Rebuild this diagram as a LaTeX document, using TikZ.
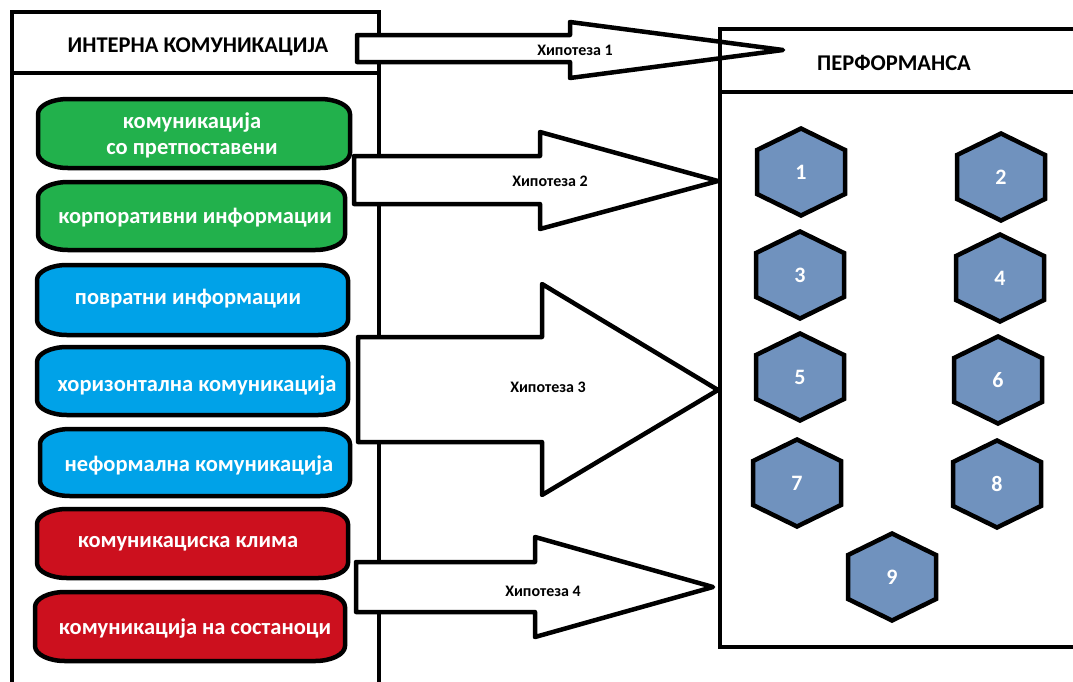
\documentclass[tikz,border=0pt]{standalone}
\usepackage{fontspec}
\setmainfont{Carlito}
\definecolor{pgreen}{RGB}{34,177,76}
\definecolor{pblue}{RGB}{0,162,232}
\definecolor{pred}{RGB}{204,16,30}
\definecolor{hexblue}{RGB}{112,146,190}
\tikzset{
  thick line/.style={line width=4.5pt, draw=black},
  pillline/.style={line width=4.5pt, draw=black, line join=round},
  arrowshape/.style={line width=4.5pt, draw=black, fill=white, line join=round},
  hexline/.style={line width=4.5pt, draw=black, fill=hexblue, line join=miter},
  pilltext/.style={text=white, font=\bfseries\fontsize{22.5}{26}\selectfont, align=center, inner sep=0pt},
  titletext/.style={text=black, font=\bfseries\fontsize{22.5}{26}\selectfont, inner sep=0pt},
  hyptext/.style={text=black, font=\bfseries\fontsize{16}{19}\selectfont, inner sep=0pt},
  hexnum/.style={text=white, font=\bfseries\fontsize{22}{25}\selectfont, inner sep=0pt}
}
\newcommand\pillshape[5]{%
  \draw[pillline,fill=#5] (#1,{#2+15}) .. controls (#1,{#2+6.7}) and ({#1+13.4},#2) .. ({#1+30},#2)
    -- ({#3-30},#2) .. controls ({#3-13.4},#2) and (#3,{#2+6.7}) .. (#3,{#2+15})
    -- (#3,{#4-15}) .. controls (#3,{#4-6.7}) and ({#3-13.4},#4) .. ({#3-30},#4)
    -- ({#1+30},#4) .. controls ({#1+13.4},#4) and (#1,{#4-6.7}) .. (#1,{#4-15}) -- cycle;}
\newcommand\hexa[4]{% name, x, y, label
  \draw[hexline] ({#2},{#3-43.5}) -- ({#2+44},{#3-22}) -- ({#2+44},{#3+22}) -- ({#2},{#3+43.5})
    -- ({#2-44},{#3+22}) -- ({#2-44},{#3-22}) -- cycle;
  \node[hexnum] (#1) at (#2,#3) {#4};}
\begin{document}
\begin{tikzpicture}[x=1pt,y=-1pt]
\path[use as bounding box, clip] (0,0) rectangle (1073,681);
\fill[white] (0,0) rectangle (1073,681);
% left box
\draw[thick line] (12,700) -- (12,12) -- (379,12) -- (379,700);
\draw[thick line] (12,73) -- (379,73);
\node[titletext] (lefttitle) at (198,47) {ИНТЕРНА КОМУНИКАЦИЈА};
% pills
\pillshape{38}{99}{350}{168}{pgreen}
\node[pilltext] (p1) at (192,135) {комуникација\\со претпоставени};
\pillshape{38}{182}{345}{250}{pgreen}
\node[pilltext] (p2) at (195,218) {корпоративни информации};
\pillshape{37}{265}{348}{335}{pblue}
\node[pilltext] (p3) at (188,299) {повратни информации};
\pillshape{37}{347}{348}{415}{pblue}
\node[pilltext] (p4) at (197,385) {хоризонтална комуникација};
\pillshape{40}{429}{350}{496}{pblue}
\node[pilltext] (p5) at (199,465) {неформална комуникација};
\pillshape{37}{509}{348}{578}{pred}
\node[pilltext] (p6) at (188,544) {комуникациска клима};
\pillshape{35}{592}{345}{661}{pred}
\node[pilltext] (p7) at (195,628) {комуникација на состаноци};
% arrows
\draw[arrowshape] (357,35) -- (570,35) -- (570,22) -- (783,50) -- (570,78) -- (570,62) -- (357,62) -- cycle;
\node[hyptext] (h1) at (575,50) {Хипотеза 1};
\draw[arrowshape] (354,156) -- (540,156) -- (540,132) -- (718,181) -- (540,229) -- (540,204) -- (354,204) -- cycle;
\node[hyptext] (h2) at (550,181) {Хипотеза 2};
\draw[arrowshape] (358,337) -- (542,337) -- (542,284) -- (718,390) -- (542,495) -- (542,442) -- (358,442) -- cycle;
\node[hyptext] (h3) at (548,387) {Хипотеза 3};
\draw[arrowshape] (356,562) -- (535,562) -- (535,537) -- (713,587) -- (535,637) -- (535,612) -- (356,612) -- cycle;
\node[hyptext] (h4) at (543,591) {Хипотеза 4};
% right box
\draw[thick line] (1090,29) -- (720,29) -- (720,647) -- (1090,647);
\draw[thick line] (720,92) -- (1090,92);
\node[titletext] (righttitle) at (894,63) {ПЕРФОРМАНСА};
% hexagons
\hexa{x1}{801}{172}{1}
\hexa{x2}{1001}{177}{2}
\hexa{x3}{800}{275}{3}
\hexa{x4}{1000}{278}{4}
\hexa{x5}{800}{377}{5}
\hexa{x6}{998}{380}{6}
\hexa{x7}{797}{483}{7}
\hexa{x8}{997}{484}{8}
\hexa{x9}{892}{577}{9}
\end{tikzpicture}
\end{document}
